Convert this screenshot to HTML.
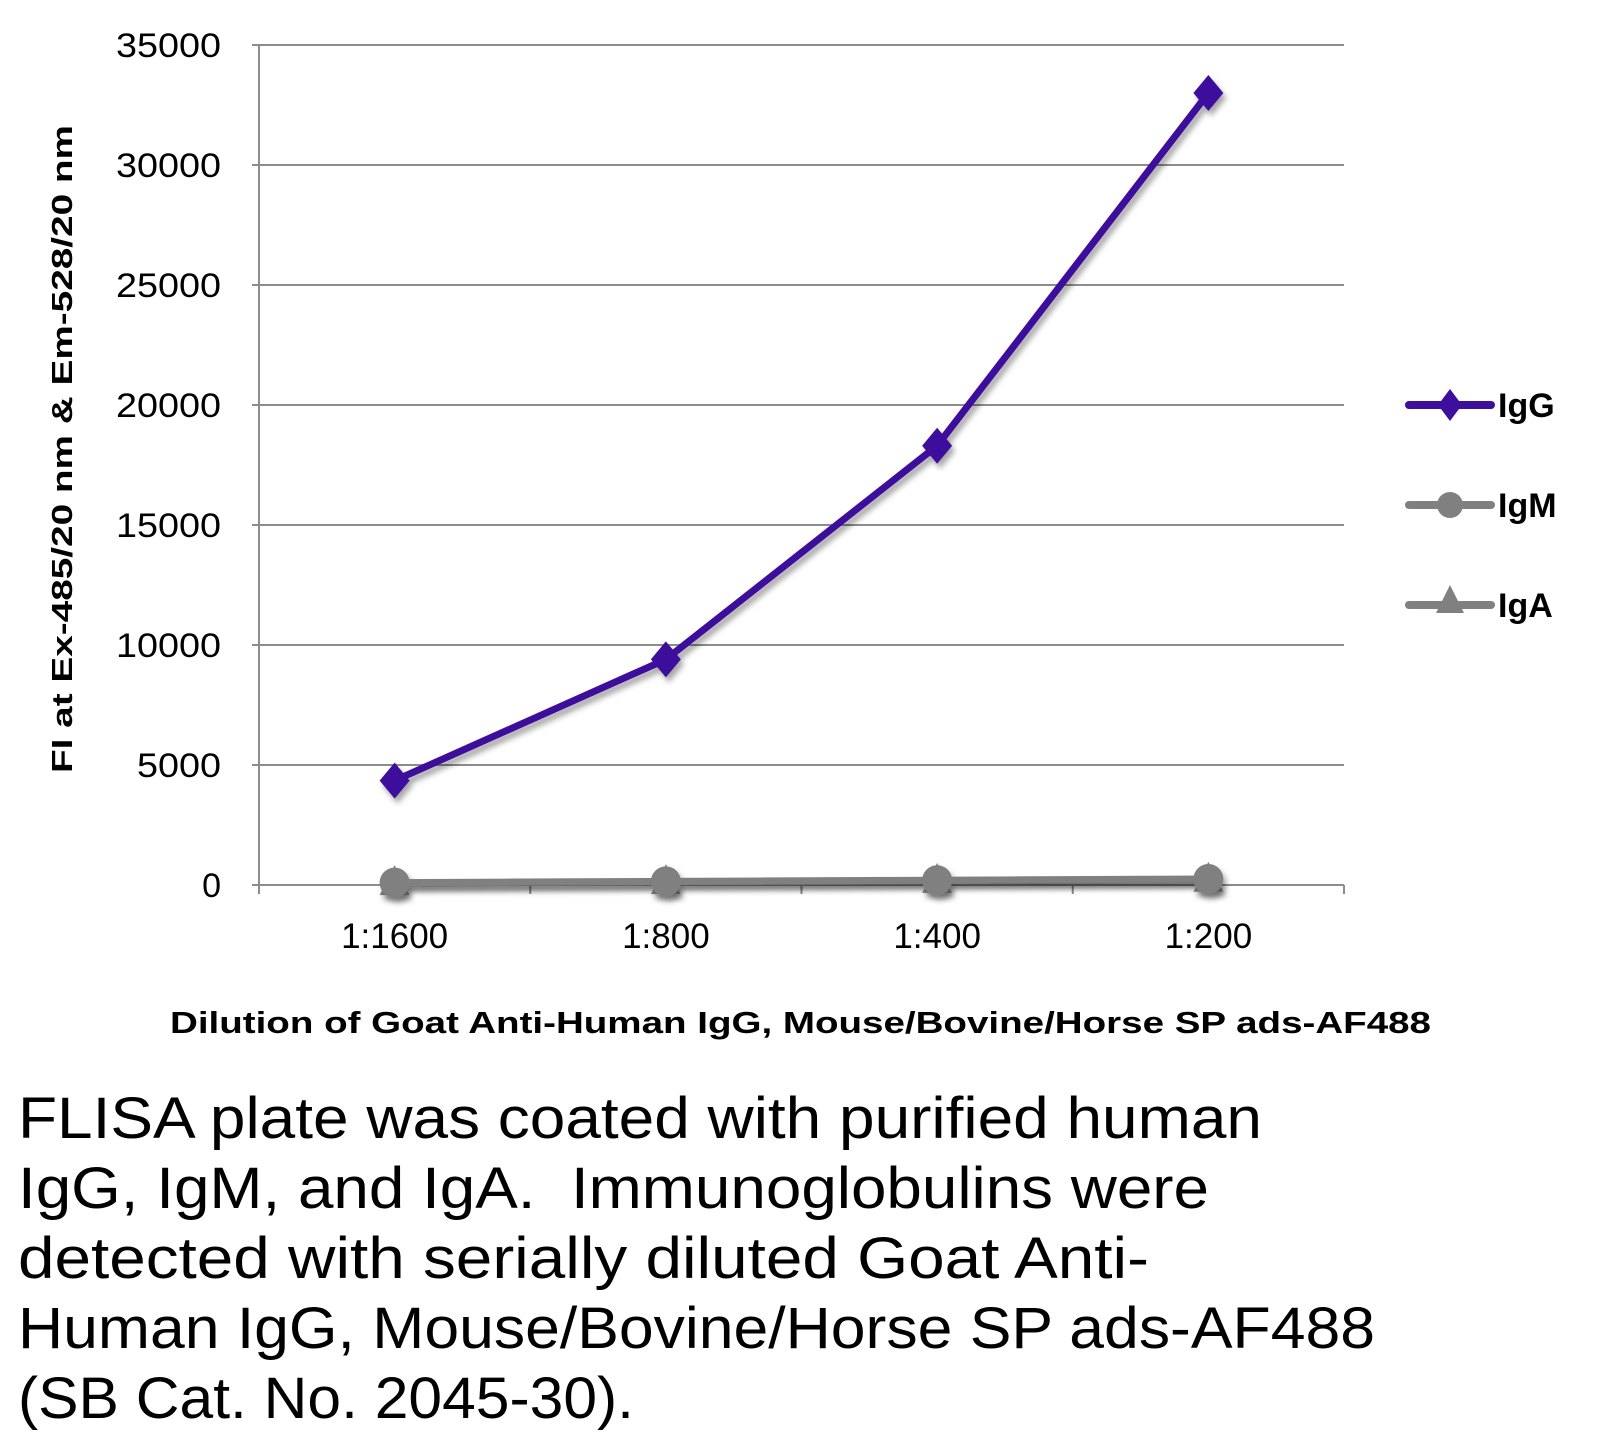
<!DOCTYPE html>
<html><head><meta charset="utf-8"><style>
html,body{margin:0;padding:0;background:#fff;}
svg{display:block;font-family:"Liberation Sans",Arial,sans-serif;}
</style></head><body>
<svg id="chart" width="1609" height="1446" viewBox="0 0 1609 1446" xmlns="http://www.w3.org/2000/svg">
<defs>
<filter id="sh" x="-20%" y="-20%" width="140%" height="160%"><feDropShadow dx="3" dy="5" stdDeviation="3" flood-color="#000" flood-opacity="0.35"/></filter>
</defs>
<g id="grid"></g>
<g id="axes"></g>
<g id="series"></g>
<text transform="translate(72,449) rotate(-90)" text-anchor="middle" font-size="29" font-weight="bold" textLength="648" lengthAdjust="spacingAndGlyphs">FI at Ex-485/20 nm &amp; Em-528/20 nm</text>
<text x="170" y="1033" font-size="31" font-weight="bold" textLength="1261" lengthAdjust="spacingAndGlyphs">Dilution of Goat Anti-Human IgG, Mouse/Bovine/Horse SP ads-AF488</text>
<g>
 <g>
  <line x1="1409" y1="405" x2="1491" y2="405" stroke="#3d0f9c" stroke-width="8" stroke-linecap="round"/>
  <polygon points="1450,389 1462,405 1450,421 1438,405" fill="#3d0f9c"/>
  <text x="1498" y="417" font-size="34" font-weight="bold">IgG</text>
 </g>
 <g>
  <line x1="1409" y1="505" x2="1491" y2="505" stroke="#808080" stroke-width="8" stroke-linecap="round"/>
  <circle cx="1450" cy="505" r="13" fill="#808080"/>
  <text x="1498" y="517" font-size="34" font-weight="bold">IgM</text>
 </g>
 <g>
  <line x1="1409" y1="605" x2="1491" y2="605" stroke="#808080" stroke-width="8" stroke-linecap="round"/>
  <polygon points="1450,585 1464,613 1436,613" fill="#808080"/>
  <text x="1498" y="617" font-size="34" font-weight="bold">IgA</text>
 </g>
</g>
<g font-size="58">
 <text x="18" y="1138" textLength="1244" lengthAdjust="spacingAndGlyphs">FLISA plate was coated with purified human</text>
 <text x="18" y="1208" textLength="1191" lengthAdjust="spacingAndGlyphs">IgG, IgM, and IgA.&#160; Immunoglobulins were</text>
 <text x="18" y="1278" textLength="1131" lengthAdjust="spacingAndGlyphs">detected with serially diluted Goat Anti-</text>
 <text x="18" y="1348" textLength="1357" lengthAdjust="spacingAndGlyphs">Human IgG, Mouse/Bovine/Horse SP ads-AF488</text>
 <text x="18" y="1418" textLength="616" lengthAdjust="spacingAndGlyphs">(SB Cat. No. 2045-30).</text>
</g>
</svg>
<script>
const categories = ["1:1600","1:800","1:400","1:200"];
const iggValues = [4350, 9400, 18300, 33000];
const igmValues = [100, 150, 200, 250];
const igaValues = [80, 120, 170, 220];
const yTicks = [0,5000,10000,15000,20000,25000,30000,35000];
const yMax = 35000;

const NS="http://www.w3.org/2000/svg";
const L=259,R=1344,T=45,B=885;
function yS(v){return B-(v/yMax)*(B-T);}
function xS(i){const w=(R-L)/categories.length;return L+w*(i+0.5);}
function mk(tag,attrs,parent){const e=document.createElementNS(NS,tag);for(const k in attrs)e.setAttribute(k,attrs[k]);parent.appendChild(e);return e;}
const grid=document.getElementById('grid'),axes=document.getElementById('axes'),series=document.getElementById('series');
yTicks.forEach(v=>{
  const y=yS(v);
  if(v>0){const g=mk('line',{x1:L,x2:R,y1:y,y2:y,stroke:'#8c8c8c','stroke-width':2},grid);
  
  }
  mk('line',{x1:L-7,x2:L,y1:y,y2:y,stroke:'#8c8c8c','stroke-width':2},axes);
  const t=mk('text',{x:221,y:y+12,'text-anchor':'end','font-size':34},axes);
  t.textContent=String(v);
  if(v>0){t.setAttribute('textLength',String(v).length*21);t.setAttribute('lengthAdjust','spacingAndGlyphs');}
  
  
});
mk('line',{x1:L,x2:L,y1:T,y2:B+8,stroke:'#8c8c8c','stroke-width':2},axes);
mk('line',{x1:L,x2:R,y1:B,y2:B,stroke:'#8c8c8c','stroke-width':2},axes);
for(let i=0;i<=categories.length;i++){const x=L+(R-L)/categories.length*i;mk('line',{x1:x,x2:x,y1:B,y2:B+9,stroke:'#8c8c8c','stroke-width':2},axes);}
categories.forEach((c,i)=>{
  const t=mk('text',{x:xS(i),y:948,'text-anchor':'middle','font-size':35},axes);
  t.textContent=c;
  
  
});
function drawSeries(vals,color,shape,name){
  const g=mk('g',{filter:'url(#sh)'},series);
  
  
  const pts=vals.map((v,i)=>xS(i)+','+yS(v)).join(' ');
  const pl=mk('polyline',{points:pts,fill:'none',stroke:color,'stroke-width':7,'stroke-linejoin':'round'},g);
  
  
  vals.forEach((v,i)=>{
    const x=xS(i),y=yS(v);let m;
    if(shape==='diamond')m=mk('polygon',{points:`${x},${y-18} ${x+15},${y} ${x},${y+18} ${x-15},${y}`,fill:color},g);
    else if(shape==='circle')m=mk('circle',{cx:x,cy:y,r:15,fill:color},g);
    else m=mk('polygon',{points:`${x},${y-18} ${x+15},${y+12} ${x-15},${y+12}`,fill:color},g);
    
    
  });
}
drawSeries(igaValues,'#808080','triangle','iga');
drawSeries(igmValues,'#808080','circle','igm');
drawSeries(iggValues,'#3d0f9c','diamond','igg');
</script>
</body></html>
